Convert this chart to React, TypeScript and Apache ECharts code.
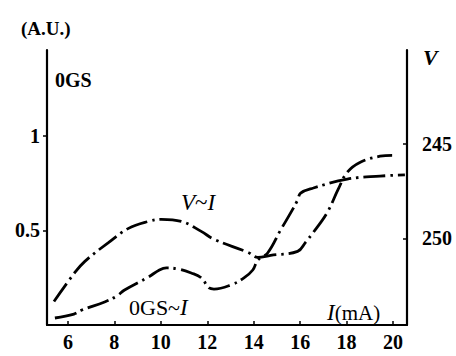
import React, { useEffect, useRef } from "react";
import * as echarts from "echarts";

const xTicks = [6, 8, 10, 12, 14, 16, 18, 20];
const leftTicks = [0.5, 1];
const rightTicks = [245, 250];

// V~I (right axis, volts, inverted)
const vCurrent = [5.4, 6.3, 6.73, 7.76, 8.61, 9.47, 10.02, 10.88, 11.74, 12.29, 13.75, 14.18, 14.73, 15.89, 16.23, 16.57, 17.17, 17.64, 18.03, 18.59, 19.44, 19.96];
const vVoltage = [253.35, 251.81, 251.22, 250.21, 249.47, 249.1, 248.99, 249.1, 249.63, 250.05, 250.74, 251.01, 250.9, 250.69, 250.21, 249.68, 248.62, 247.39, 246.49, 245.96, 245.64, 245.59];

// OGS~I (left axis, A.U.)
const ogsCurrent = [5.44, 6.26, 6.6, 7.58, 8.1, 8.44, 9.47, 9.94, 10.24, 10.75, 11.31, 11.74, 12.08, 12.29, 13.02, 13.58, 13.96, 14.18, 14.6, 15.16, 15.59, 15.89, 16.02, 16.57, 18.03, 19.44, 20.51];
const ogsValue = [0.037, 0.058, 0.079, 0.122, 0.153, 0.185, 0.254, 0.291, 0.302, 0.296, 0.275, 0.25, 0.196, 0.19, 0.212, 0.249, 0.291, 0.344, 0.381, 0.503, 0.593, 0.661, 0.698, 0.725, 0.772, 0.788, 0.794];

const FONT = "'Liberation Serif', 'DejaVu Serif', serif";
const dashDot = [22, 5, 2.5, 5];

export default function App() {
  const ref = useRef<HTMLDivElement>(null);
  useEffect(() => {
    if (!ref.current) return;
    const chart = echarts.init(ref.current, null, { renderer: "svg" });
    const axisLabelBase = {
      color: "#000",
      fontFamily: FONT,
      fontWeight: "bold" as const,
      fontSize: 20,
    };
    const axisLine = { show: true, lineStyle: { color: "#000", width: 2.2 } };
    chart.setOption({
      animation: false,
      backgroundColor: "#fff",
      grid: { left: 47, right: 49, top: 50, bottom: 31 },
      xAxis: {
        type: "value",
        min: 5.1,
        max: 20.6,
        axisLine,
        splitLine: { show: false },
        axisTick: { show: true, inside: true, length: 4, customValues: xTicks, lineStyle: { color: "#000", width: 1.5 } },
        axisLabel: { ...axisLabelBase, margin: 7, customValues: xTicks },
      },
      yAxis: [
        {
          type: "value",
          min: 0,
          max: 1.455,
          axisLine,
          splitLine: { show: false },
          axisTick: { show: true, inside: false, length: 4, customValues: leftTicks, lineStyle: { color: "#000", width: 1.5 } },
          axisLabel: { ...axisLabelBase, margin: 7, customValues: leftTicks, formatter: (v: number) => (v === 1 ? "1" : "0.5") },
        },
        {
          type: "value",
          min: 240,
          max: 254.6,
          inverse: true,
          position: "right",
          axisLine,
          splitLine: { show: false },
          axisTick: { show: true, inside: true, length: 4, customValues: rightTicks, lineStyle: { color: "#000", width: 1.5 } },
          axisLabel: { ...axisLabelBase, margin: 15, customValues: rightTicks },
        },
      ],
      series: [
        {
          name: "V~I",
          type: "line",
          yAxisIndex: 1,
          data: vCurrent.map((x, i) => [x, vVoltage[i]]),
          smooth: 0.4,
          showSymbol: false,
          lineStyle: { color: "#000", width: 2.8, type: dashDot },
        },
        {
          name: "OGS~I",
          type: "line",
          yAxisIndex: 0,
          data: ogsCurrent.map((x, i) => [x, ogsValue[i]]),
          smooth: 0.4,
          showSymbol: false,
          lineStyle: { color: "#000", width: 2.8, type: dashDot },
        },
      ],
      graphic: [
        { type: "text", left: 21, top: 19, style: { text: "(A.U.)", font: `bold 19px ${FONT}`, fill: "#000" } },
        { type: "text", left: 55, top: 70, style: { text: "0GS", font: `bold 20px ${FONT}`, fill: "#000" } },
        { type: "text", left: 423, top: 46, style: { text: "V", font: `italic bold 22px ${FONT}`, fill: "#000" } },
        {
          type: "text", left: 181, top: 191,
          style: { text: "{i|V}~{i|I}", font: `23px ${FONT}`, fill: "#000", rich: { i: { fontStyle: "italic", fontSize: 23, fontFamily: FONT } } },
        },
        {
          type: "text", left: 129, top: 296,
          style: { text: "0GS~{i|I}", font: `22px ${FONT}`, fill: "#000", rich: { i: { fontStyle: "italic", fontSize: 23, fontFamily: FONT } } },
        },
        {
          type: "text", left: 327, top: 301,
          style: { text: "{i|I}(mA)", font: `21px ${FONT}`, fill: "#000", rich: { i: { fontStyle: "italic", fontSize: 23, fontFamily: FONT } } },
        },
      ],
    });
    return () => chart.dispose();
  }, []);
  return (
    <div
      ref={ref}
      style={{ position: "fixed", left: 0, top: 0, width: 456, height: 356, overflow: "visible" }}
    />
  );
}
